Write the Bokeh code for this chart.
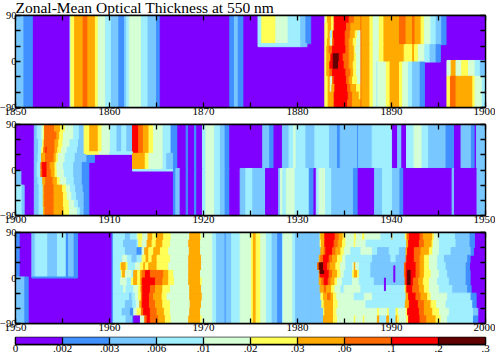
from bokeh.plotting import figure
from bokeh.layouts import column
from bokeh.models import LinearAxis, FixedTicker, ColumnDataSource, Title
from bokeh.embed import file_html
from bokeh.resources import INLINE

TITLE = "Zonal-Mean Optical Thickness at 550 nm"
LEVEL_COLORS = ["#7F00FF", "#4090FF", "#78C8FF", "#A0EFFF", "#D5FFD5", "#FFFF55",
                "#FFAA00", "#FF6A00", "#FF0000", "#600000"]
LEVEL_LABELS = ["0", ".002", ".003", ".006", ".01", ".02", ".03", ".06", ".1", ".2", ".3"]
DECADES = [(1850, 1900), (1900, 1950), (1950, 2000)]

# every block: (lat north, lat south, first year, [(level, last year), ...])
P1 = [
 (90,-90,1850,[(2,1850.9),(1,1851.9),(0,1855.8),(3,1855.9),(5,1856.3),(6,1857.2),(7,1857.7),(6,1858.5),(5,1858.8),(4,1859.6),(3,1860.2),(2,1861.0),(1,1861.6),(2,1861.8),(3,1862.1),(4,1863.4),(3,1864.1),(2,1865.0),(1,1865.4),(0,1872.8),(1,1873.3),(2,1873.7),(1,1874.3),(0,1900)]),
 (90,35,1875.8,[(3,1876.2),(5,1877.7),(4,1879.0),(3,1880.35),(2,1880.9),(1,1881.4)]),
 (35,29,1875.8,[(3,1880.35),(2,1881.0)]),
 (90,75,1882.91,[(4,1883.02),(5,1883.19),(6,1883.62),(5,1883.9),(8,1885.5),(7,1886.04),(6,1886.75)]),
 (75,60,1882.91,[(5,1883.26),(6,1883.62),(5,1883.9),(8,1885.22),(7,1885.68),(6,1886.75)]),
 (60,45,1882.91,[(5,1883.26),(6,1883.48),(3,1883.73),(6,1883.83),(8,1885.08),(7,1885.61),(6,1886.14),(5,1886.39),(4,1886.75)]),
 (45,30,1882.91,[(5,1883.19),(6,1883.48),(4,1883.73),(7,1883.9),(8,1885.08),(7,1885.5),(6,1885.93),(5,1886.29),(4,1886.75)]),
 (30,15,1882.91,[(5,1883.12),(6,1883.37),(7,1883.73),(8,1885.15),(7,1885.5),(6,1886.04),(5,1886.21),(4,1886.75)]),
 (15,0,1882.91,[(5,1883.12),(6,1883.55),(8,1883.8),(9,1884.44),(8,1884.86),(7,1885.5),(6,1886.04),(5,1886.29),(4,1886.75)]),
 (0,-15,1882.91,[(5,1883.12),(6,1883.44),(8,1883.8),(9,1884.37),(8,1884.97),(7,1885.5),(6,1885.93),(5,1886.29),(4,1886.75)]),
 (-15,-30,1882.91,[(5,1883.12),(6,1883.44),(7,1883.73),(8,1885.15),(7,1885.68),(6,1885.97),(5,1886.29),(4,1886.75)]),
 (-30,-45,1882.91,[(5,1883.26),(6,1883.48),(4,1883.73),(7,1883.9),(8,1885.22),(7,1885.5),(6,1885.86),(5,1886.39),(4,1886.75)]),
 (-45,-60,1882.91,[(5,1883.26),(6,1883.48),(4,1883.66),(6,1883.98),(8,1885.33),(7,1885.68),(6,1886.29),(5,1886.75)]),
 (-60,-75,1882.91,[(5,1883.26),(6,1883.9),(8,1885.4),(7,1885.86),(6,1886.57),(5,1886.75)]),
 (-75,-90,1882.91,[(5,1883.26),(6,1883.9),(8,1885.33),(7,1885.86),(6,1886.75)]),
 (90,33,1886.75,[(7,1886.85),(6,1887.7),(5,1888.05),(4,1888.7),(5,1889.2),(6,1890.85),(7,1891.55),(6,1892.25),(7,1892.5),(6,1893.15),(5,1893.5),(4,1894.2),(3,1894.75),(2,1895.35),(1,1895.8)]),
 (33,-1,1886.75,[(7,1886.85),(6,1887.7),(5,1888.05),(4,1888.7),(5,1889.2),(6,1891.35),(5,1892.25),(6,1892.45),(5,1892.85),(4,1893.55),(3,1894.1),(2,1894.75),(1,1895.2)]),
 (-1,-90,1886.75,[(7,1886.85),(6,1887.7),(5,1888.05),(4,1888.45),(3,1888.55),(4,1889.45),(5,1889.85),(6,1890.85),(5,1891.2),(4,1891.8),(3,1892.25),(2,1893.05),(1,1893.5)]),
 (2,-29,1895.9,[(4,1896.35),(6,1896.87),(4,1897.47),(5,1898.2),(4,1898.9),(3,1899.45),(2,1900)]),
 (-29,-90,1895.9,[(5,1896.27),(7,1896.87),(6,1898.65),(5,1898.9),(4,1899.65),(3,1900)]),
]

P2 = [
 (90,-90,1900,[(0,1950)]),
 (-2,-30,1900,[(2,1900.57)]),
 (-30,-90,1900,[(3,1900.7),(2,1900.92)]),
 (90,75,1902.0,[(2,1902.3),(3,1902.8),(4,1903.0),(5,1903.1),(7,1904.15),(6,1904.8),(5,1905.3),(4,1906.2),(3,1906.8),(2,1907.3)]),
 (75,60,1902.0,[(2,1902.3),(3,1902.8),(4,1903.0),(5,1903.1),(7,1904.4),(6,1904.7),(5,1905.1),(4,1906.2),(3,1906.8),(2,1907.3)]),
 (60,45,1902.0,[(2,1902.45),(3,1902.9),(5,1903.05),(7,1904.2),(6,1904.6),(5,1905.05),(4,1905.8),(3,1906.7),(2,1907.3)]),
 (45,33,1902.0,[(2,1902.45),(3,1902.8),(5,1903.0),(7,1903.25),(8,1903.35),(7,1904.2),(6,1904.5),(5,1904.9),(4,1905.5),(3,1906.6),(2,1907.3)]),
 (33,15,1902.0,[(2,1902.4),(3,1902.77),(6,1903.2),(7,1904.1),(6,1904.33),(5,1904.57),(4,1905.28),(3,1906.35),(2,1907.6),(1,1908.4)]),
 (15,0,1902.0,[(2,1902.3),(3,1902.7),(7,1902.85),(8,1903.35),(7,1903.7),(6,1904.2),(5,1904.4),(4,1905.1),(3,1906.2),(2,1907.1),(1,1907.8)]),
 (0,-15,1902.0,[(2,1902.3),(3,1902.7),(7,1902.9),(8,1903.35),(7,1903.8),(6,1904.2),(5,1904.45),(4,1905.2),(3,1906.2),(2,1907.1),(1,1907.8)]),
 (-15,-30,1902.0,[(2,1902.4),(3,1902.9),(6,1903.2),(7,1904.0),(6,1904.45),(5,1904.75),(4,1905.45),(3,1906.25),(2,1907.1),(1,1907.8)]),
 (-30,-45,1902.0,[(2,1902.5),(3,1902.95),(6,1903.1),(7,1904.1),(6,1905.0),(5,1905.4),(4,1905.85),(3,1906.4),(2,1907.2),(1,1907.8)]),
 (-45,-60,1902.0,[(2,1902.5),(3,1902.95),(6,1903.1),(7,1904.1),(6,1905.1),(5,1905.5),(4,1906.0),(3,1906.5),(2,1907.3),(1,1907.8)]),
 (-60,-75,1902.0,[(2,1902.5),(3,1902.95),(6,1903.1),(7,1904.1),(6,1905.1),(5,1905.7),(4,1906.3),(3,1906.7),(2,1907.3),(1,1907.8)]),
 (-75,-90,1902.0,[(2,1902.5),(3,1903.0),(6,1903.15),(7,1904.1),(6,1905.15),(5,1905.75),(4,1906.6),(3,1906.9),(2,1907.3),(1,1907.8)]),
 (90,33,1907.3,[(5,1907.9),(6,1908.8),(5,1909.2),(4,1910.1),(3,1910.8),(2,1911.3),(3,1911.85),(2,1912.45),(8,1913.1),(7,1913.6),(6,1914.2),(5,1914.7),(4,1915.7),(3,1916.55),(1,1917.27)]),
 (36,31,1907.5,[(5,1908.9),(4,1910.0),(3,1912.45)]),
 (33,1,1912.45,[(6,1913.8),(5,1914.2),(4,1915.7),(3,1916.1),(2,1916.8),(1,1917.27)]),
 (1,-2,1912.45,[(3,1916.8)]),
 (90,3,1917.27,[(0,1918.16),(1,1918.4),(0,1919.04),(1,1919.29),(0,1919.9),(3,1920.25),(4,1921.2),(3,1921.8),(2,1922.3),(1,1922.8),(0,1926.3),(2,1927.05),(1,1927.5),(0,1928.4),(2,1929.1),(3,1929.6),(4,1929.85),(3,1930.9),(2,1931.85),(3,1933.4),(2,1934.25),(1,1934.55),(2,1936.4),(1,1936.5),(2,1937.95),(3,1940.1),(0,1940.65),(2,1941.1),(0,1941.6),(3,1942.4),(4,1943.25),(3,1943.95),(2,1945.8),(1,1946.7),(0,1947.4),(2,1948.5),(1,1948.9),(0,1949.05),(2,1950)]),
 (3,-90,1916.8,[(1,1917.06),(2,1917.52),(0,1918.16),(1,1918.4),(0,1919.04),(1,1919.29),(0,1919.9),(3,1920.25),(4,1921.2),(3,1921.8),(2,1922.3),(1,1922.8),(0,1923.9),(2,1924.5),(3,1925.25),(2,1926.6),(0,1928.0),(2,1928.2),(4,1928.45),(3,1928.8),(4,1929.75),(3,1931.25),(1,1931.75),(0,1932.0),(3,1932.3),(4,1933.0),(3,1933.65),(2,1935.95),(1,1936.45),(0,1938.2),(2,1939.05),(3,1940.1),(2,1940.9),(1,1941.3),(0,1946.45),(2,1946.7),(0,1949.1),(2,1950)]),
]

P3_BASE = [
 (90,-90,1950,[(0,2000)]),
 (90,2,1950,[(1,1950.5),(0,1951.74),(2,1952.1),(3,1953.44),(2,1954.47),(3,1955.4),(1,1955.64),(2,1956.24),(1,1956.6)]),
 (2,0,1951.74,[(1,1956.6)]),
 (2,-90,1950,[(2,1951.0),(1,1951.35)]),
 (90,-90,1960.27,[(1,1960.41)]),
 (90,-90,1970.2,[(4,1971.0),(3,1971.4),(2,1972.3),(1,1972.4),(2,1973.0),(3,1973.9),(4,1975.1),(5,1975.3),(6,1975.6),(5,1976.1),(4,1976.7),(3,1977.3),(2,1977.9),(1,1978.4),(3,1978.5),(4,1979.5),(3,1979.8),(2,1981.42)]),
]

P3_A = [
 (90,75,1960.41,[(3,1961.69),(2,1962.22),(3,1962.93),(4,1963.04),(5,1963.54),(4,1964.1),(6,1964.6),(5,1965.0),(6,1965.77),(5,1966.55),(4,1968.54),(6,1969.68),(5,1969.78),(4,1970.2)]),
 (75,60,1960.41,[(3,1961.51),(2,1962.93),(3,1963.11),(5,1963.47),(4,1964.0),(6,1964.53),(5,1964.96),(6,1965.67),(5,1966.48),(4,1968.43),(6,1969.68),(4,1970.2)]),
 (60,45,1960.41,[(3,1961.69),(2,1962.93),(1,1963.47),(4,1963.75),(6,1964.18),(5,1964.71),(6,1965.42),(5,1966.3),(4,1968.5),(6,1969.68),(4,1970.2)]),
 (45,30,1960.41,[(3,1961.41),(4,1961.9),(3,1962.4),(2,1962.93),(3,1963.47),(5,1963.89),(6,1964.18),(5,1964.53),(6,1965.06),(5,1966.48),(4,1968.43),(6,1969.78),(4,1970.2)]),
 (30,15,1960.41,[(3,1961.16),(5,1961.26),(6,1961.76),(5,1961.97),(3,1962.76),(4,1963.29),(5,1963.64),(6,1963.82),(5,1964.18),(6,1965.06),(5,1966.3),(4,1968.43),(6,1969.78),(4,1970.2)]),
 (15,0,1960.41,[(3,1961.26),(5,1961.41),(6,1961.69),(4,1962.4),(3,1962.58),(6,1963.0),(5,1963.29),(6,1963.47),(7,1963.82),(8,1964.35),(7,1965.77),(6,1966.3),(5,1966.84),(4,1968.43),(6,1969.68),(4,1970.2)]),
 (0,-15,1960.41,[(3,1961.16),(4,1961.87),(3,1962.33),(5,1962.58),(6,1963.0),(5,1963.29),(6,1963.47),(8,1964.89),(7,1965.67),(6,1966.3),(5,1966.91),(4,1968.43),(6,1969.68),(5,1969.86),(4,1970.2)]),
 (-15,-30,1960.41,[(3,1961.51),(4,1961.76),(3,1962.58),(4,1963.11),(5,1963.36),(7,1963.54),(8,1964.35),(7,1964.89),(6,1965.67),(5,1966.48),(4,1968.54),(6,1969.78),(4,1970.2)]),
 (-30,-45,1960.41,[(3,1962.12),(2,1962.4),(3,1962.76),(4,1963.11),(5,1963.39),(7,1963.54),(8,1964.25),(7,1964.71),(6,1965.6),(5,1966.13),(4,1968.54),(6,1969.86),(4,1970.2)]),
 (-45,-60,1960.41,[(3,1961.69),(2,1962.47),(3,1962.86),(4,1963.22),(6,1963.47),(8,1964.25),(7,1964.89),(6,1965.67),(5,1966.48),(4,1968.58),(6,1969.78),(4,1970.2)]),
 (-60,-75,1960.41,[(3,1961.34),(2,1962.22),(1,1962.58),(4,1962.93),(5,1963.39),(7,1963.64),(8,1964.35),(7,1965.06),(6,1965.84),(5,1966.48),(4,1968.54),(6,1969.68),(4,1970.2)]),
 (-75,-90,1960.41,[(3,1961.76),(2,1962.47),(1,1962.58),(0,1963.29),(4,1963.75),(7,1964.0),(8,1964.35),(7,1965.24),(6,1965.95),(5,1966.55),(4,1968.43),(6,1969.68),(5,1969.86),(4,1970.2)]),
]

P3_B = [
 (90,75,1981.42,[(2,1982.41),(5,1982.49),(6,1982.91),(8,1984.01),(7,1984.44),(6,1984.86),(5,1985.15),(4,1986.04),(5,1986.28),(4,1986.92),(5,1987.17),(4,1988.88),(3,1990.05),(6,1990.15),(3,1990.48)]),
 (75,60,1981.42,[(2,1982.41),(5,1982.56),(6,1982.91),(8,1983.9),(7,1984.33),(6,1984.79),(5,1985.15),(4,1986.04),(5,1986.21),(4,1987.3),(3,1990.48)]),
 (60,45,1981.42,[(2,1982.49),(6,1982.84),(7,1983.02),(8,1983.73),(7,1984.08),(6,1984.62),(5,1984.97),(4,1985.68),(3,1986.75),(4,1987.99),(3,1988.52),(2,1989.76),(3,1990.48)]),
 (45,30,1981.42,[(2,1982.31),(6,1982.49),(7,1982.77),(8,1983.37),(7,1983.73),(6,1984.26),(5,1984.79),(4,1985.15),(3,1987.99),(2,1989.94),(3,1990.48)]),
 (30,15,1981.42,[(2,1982.13),(7,1982.31),(9,1982.77),(8,1983.2),(7,1983.48),(6,1984.08),(5,1984.54),(4,1985.15),(3,1985.86),(4,1986.04),(6,1986.2),(4,1986.57),(3,1987.81),(2,1990.48)]),
 (15,0,1981.42,[(2,1982.31),(6,1982.41),(8,1983.37),(7,1983.73),(6,1984.26),(5,1984.62),(4,1984.97),(3,1985.86),(5,1986.04),(6,1986.39),(5,1986.57),(3,1987.81),(2,1990.48)]),
 (15,9,1982.4,[(9,1982.8)]),
 (0,-15,1981.42,[(2,1982.31),(6,1982.59),(7,1982.84),(8,1983.27),(7,1983.55),(6,1983.98),(5,1984.26),(4,1984.79),(3,1985.86),(4,1986.57),(3,1988.17),(2,1990.48)]),
 (-15,-30,1981.42,[(2,1982.41),(6,1982.84),(7,1983.1),(6,1983.62),(5,1983.98),(4,1984.62),(3,1984.97),(4,1986.75),(3,1990.48)]),
 (-30,-45,1981.42,[(2,1982.49),(5,1982.77),(6,1983.2),(7,1983.55),(6,1983.83),(5,1984.19),(4,1986.04),(3,1987.1),(4,1987.99),(3,1990.48)]),
 (-45,-60,1981.42,[(2,1982.59),(5,1982.84),(6,1983.83),(5,1984.33),(4,1987.28),(3,1990.48)]),
 (-60,-75,1981.42,[(2,1982.77),(5,1982.91),(6,1983.83),(5,1984.19),(4,1988.52),(5,1988.7),(4,1989.59),(5,1989.76),(3,1990.48)]),
 (-75,-90,1981.42,[(2,1982.77),(6,1983.83),(5,1984.26),(4,1986.04),(5,1986.21),(4,1987.0),(5,1987.17),(4,1988.5),(6,1988.75),(3,1989.5),(6,1989.8),(3,1990.48)]),
 (0,-25,1989.25,[(0,1989.35)]),
 (24,-8,1990.25,[(0,1990.38)]),
]

P3_C = [
 (90,75,1990.48,[(3,1991.47),(5,1991.65),(7,1991.9),(8,1993.04),(7,1993.39),(6,1994.39),(5,1994.56),(4,1995.02),(3,1996.8),(2,1998.36),(1,1998.82)]),
 (75,60,1990.48,[(3,1991.62),(6,1991.83),(8,1992.97),(7,1993.5),(6,1994.31),(5,1994.46),(4,1995.1),(3,1996.87),(2,1998.36),(1,1998.82)]),
 (60,45,1990.48,[(3,1990.84),(2,1991.55),(6,1991.72),(8,1992.43),(7,1993.14),(6,1994.03),(5,1994.39),(4,1995.1),(3,1996.34),(2,1998.47),(1,1998.72)]),
 (45,30,1990.48,[(2,1991.55),(7,1991.65),(8,1992.43),(7,1993.04),(6,1993.5),(5,1994.03),(4,1994.92),(3,1995.63),(2,1998.11),(1,1998.36)]),
 (30,15,1990.48,[(2,1991.37),(7,1991.55),(8,1992.61),(7,1993.04),(6,1993.5),(5,1994.03),(4,1994.92),(3,1995.81),(2,1997.94),(1,1998.29)]),
 (15,0,1990.48,[(2,1991.37),(7,1991.55),(8,1991.72),(9,1992.08),(8,1992.61),(7,1993.04),(6,1993.5),(5,1994.21),(4,1995.1),(3,1995.98),(2,1997.94),(1,1998.36)]),
 (0,-15,1990.48,[(2,1991.44),(7,1991.55),(8,1991.72),(9,1992.08),(8,1992.33),(7,1992.89),(6,1993.39),(5,1994.03),(4,1994.92),(3,1996.16),(2,1997.94),(1,1998.36)]),
 (-15,-30,1990.48,[(3,1991.44),(5,1991.55),(7,1991.65),(8,1992.26),(7,1992.97),(6,1993.5),(5,1994.03),(4,1995.1),(3,1996.52),(2,1998.11),(1,1998.47)]),
 (-30,-45,1990.48,[(3,1991.55),(6,1991.83),(8,1992.61),(7,1993.14),(6,1993.85),(5,1994.21),(4,1995.98),(3,1998.47),(1,1999.0)]),
 (-45,-60,1990.48,[(3,1991.47),(6,1991.9),(8,1992.86),(7,1993.5),(6,1994.21),(5,1994.81),(4,1995.81),(3,1998.65),(1,1999.0)]),
 (-60,-75,1990.48,[(5,1990.76),(4,1991.55),(5,1991.72),(8,1992.97),(7,1993.5),(6,1994.39),(5,1995.1),(4,1996.16),(3,1998.72),(2,1999.18)]),
 (-75,-90,1990.48,[(6,1990.66),(5,1990.84),(4,1991.62),(5,1991.83),(8,1993.04),(7,1993.75),(6,1994.74),(5,1995.27),(4,1995.98),(3,1998.72),(1,1999.18)]),
]

FONT = "Liberation Serif"


def flatten(blocks):
    d = dict(left=[], right=[], top=[], bottom=[], color=[])
    for north, south, start, runs in blocks:
        x0 = start
        for level, x1 in runs:
            d["left"].append(x0)
            d["right"].append(x1)
            d["top"].append(north)
            d["bottom"].append(south)
            d["color"].append(LEVEL_COLORS[level])
            x0 = x1
    return d


def style_axis(ax, size, tick):
    ax.axis_line_color = "black"
    ax.axis_line_width = 1.3
    ax.major_tick_line_color = "black"
    ax.major_tick_line_width = 1.3
    ax.major_tick_out = 0
    ax.major_tick_in = tick
    ax.minor_tick_line_color = "black"
    ax.minor_tick_line_width = 1.3
    ax.minor_tick_out = 0
    ax.minor_tick_in = tick
    ax.major_label_standoff = 0
    ax.major_label_text_font = FONT
    ax.major_label_text_font_size = size
    ax.major_label_text_color = "black"


def panel(blocks, decade, height, top_border, bottom_border, margin):
    x0, x1 = decade
    p = figure(width=503, height=height, x_range=(x0, x1), y_range=(-90, 90),
               output_backend="svg", toolbar_location=None, tools="",
               min_border_left=23, min_border_right=10,
               min_border_top=top_border, min_border_bottom=bottom_border,
               x_axis_location=None, y_axis_location=None, margin=margin)
    p.grid.visible = False
    p.outline_line_color = "black"
    p.outline_line_width = 1.3
    p.background_fill_color = LEVEL_COLORS[0]
    p.border_fill_alpha = 0
    p.quad(left="left", right="right", top="top", bottom="bottom", source=ColumnDataSource(flatten(blocks)),
           fill_color="color", line_color="color", line_width=1)
    tens = list(range(x0, x1 + 1, 10))
    fives = list(range(x0 + 5, x1, 10))
    ymaj = [-90, 0, 90]
    ymin = [-60, -30, 30, 60]
    axes = [
        (LinearAxis(ticker=FixedTicker(ticks=tens, minor_ticks=fives)), "below"),
        (LinearAxis(ticker=FixedTicker(ticks=ymaj, minor_ticks=ymin)), "left"),
        (LinearAxis(ticker=FixedTicker(ticks=[], minor_ticks=tens + fives)), "above"),
        (LinearAxis(ticker=FixedTicker(ticks=[], minor_ticks=ymaj + ymin)), "right"),
    ]
    for ax, loc in axes:
        style_axis(ax, "11px", 5)
        if loc == "left":
            ax.major_label_text_font_size = "10.5px"
            ax.major_label_standoff = -1
        p.add_layout(ax, loc)
    return p


f1 = panel(P1, DECADES[0], 130, 24, 14, (0, 0, 0, 0))
f1.title = Title(text=TITLE, text_font=FONT, text_font_size="15.5px", text_font_style="normal",
                 text_color="black", align="left", offset=0, standoff=0)
f2 = panel(P2, DECADES[1], 111, 6, 14, (-3, 0, 0, 0))
f3 = panel(P3_BASE + P3_A + P3_B + P3_C, DECADES[2], 111, 6, 14, (-3, 0, 0, 0))

n = len(LEVEL_COLORS)
cb = figure(width=503, height=24, x_range=(0, n), y_range=(0, 1), output_backend="svg", toolbar_location=None,
            tools="", min_border_left=23, min_border_right=10, min_border_top=3, min_border_bottom=14,
            x_axis_location=None, y_axis_location=None, margin=(-3, 0, 0, 0))
cb.grid.visible = False
cb.outline_line_color = "black"
cb.outline_line_width = 1.3
cb.border_fill_alpha = 0
cb.quad(left=list(range(n)), right=list(range(1, n + 1)), top=1, bottom=0, fill_color=LEVEL_COLORS, line_color=LEVEL_COLORS)
cb_axis = LinearAxis(ticker=FixedTicker(ticks=list(range(n + 1))),
                     major_label_overrides={i: s for i, s in enumerate(LEVEL_LABELS)})
style_axis(cb_axis, "11px", 7)
cb.add_layout(cb_axis, "below")

page = column(f1, f2, f3, cb, spacing=0,
              styles={"position": "absolute", "left": "-8px", "top": "-9px", "height": "363px", "overflow": "hidden"})
open("out.html", "w").write(file_html(page, INLINE))
